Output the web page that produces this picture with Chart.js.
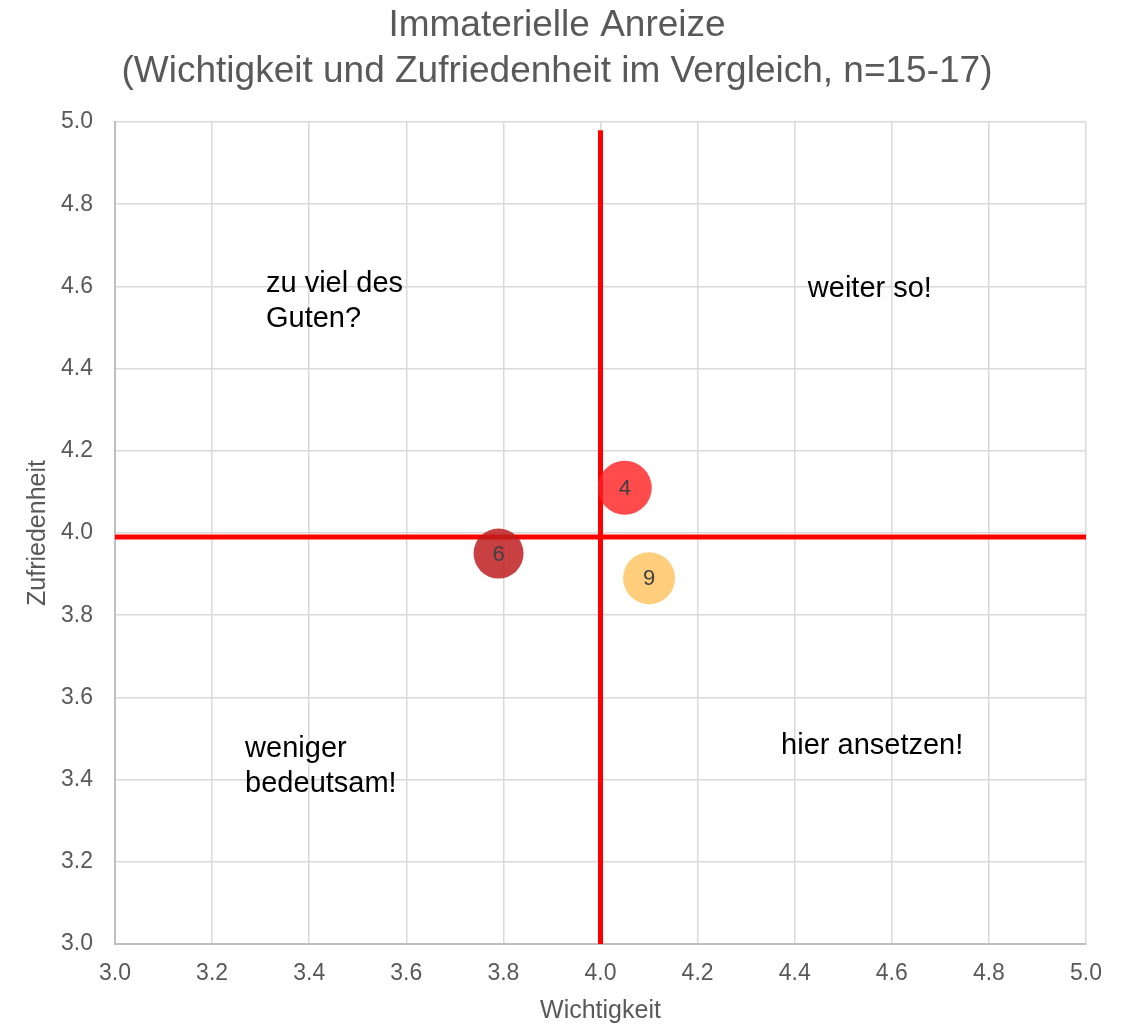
<!DOCTYPE html>
<html><head><meta charset="utf-8">
<script src="https://cdn.jsdelivr.net/npm/chart.js@4.4.1/dist/chart.umd.min.js"></script>
<style>html,body{margin:0;padding:0;background:#fff}#wrap{width:1124px;height:1027px}</style>
</head><body><div id="wrap"><canvas id="c"></canvas></div>
<script>
const bubbleLabels = ['4', '6', '9'];
const importance = [4.05, 3.79, 4.10];
const satisfaction = [4.11, 3.95, 3.89];
const bubbleSizes = [27, 25, 26];
const bubbleColors = ['rgba(255,30,30,0.8)', 'rgba(190,30,32,0.85)', 'rgba(255,190,80,0.75)'];
const xTicks = [3.0, 3.2, 3.4, 3.6, 3.8, 4.0, 4.2, 4.4, 4.6, 4.8, 5.0];
const yTicks = [3.0, 3.2, 3.4, 3.6, 3.8, 4.0, 4.2, 4.4, 4.6, 4.8, 5.0];
const vLineX = [4.0, 4.0];
const vLineY = [3.0, 4.98];
const hLineX = [3.0, 5.0];
const hLineY = [3.99, 3.99];
const quadrantTexts = [['zu viel des', 'Guten?'], ['weiter so!'], ['weniger', 'bedeutsam!'], ['hier ansetzen!']];
const quadrantX = [3.311, 4.427, 3.268, 4.372];
const quadrantY = [4.586, 4.574, 3.455, 3.462];

const FONT = '"Liberation Sans", Arial, sans-serif';
const bubbleData = importance.map((x, i) => ({x: x, y: satisfaction[i], r: bubbleSizes[i]}));

const labelPlugin = {
  id: 'labels',
  afterDatasetsDraw(chart) {
    const ctx = chart.ctx;
    const xs = chart.scales.x, ys = chart.scales.y;
    ctx.save();
    ctx.textAlign = 'center';
    ctx.textBaseline = 'middle';
    ctx.fillStyle = '#404040';
    ctx.font = '22px ' + FONT;
    bubbleData.forEach((p, i) => {
      ctx.fillText(bubbleLabels[i], xs.getPixelForValue(p.x), ys.getPixelForValue(p.y) + 1);
    });
    ctx.textAlign = 'left';
    ctx.textBaseline = 'alphabetic';
    ctx.fillStyle = '#000000';
    ctx.font = '29px ' + FONT;
    quadrantTexts.forEach((lines, i) => {
      const px = xs.getPixelForValue(quadrantX[i]);
      const py = ys.getPixelForValue(quadrantY[i]);
      lines.forEach((t, j) => ctx.fillText(t, px, py + j * 35));
    });
    ctx.restore();
  }
};

new Chart(document.getElementById('c'), {
  type: 'bubble',
  data: {
    datasets: [
      {type: 'bubble', data: bubbleData, backgroundColor: bubbleColors, borderWidth: 0, hoverBorderWidth: 0, order: 1},
      {type: 'line', data: vLineX.map((x, i) => ({x: x, y: vLineY[i]})), borderColor: '#FF0000', borderWidth: 5, pointRadius: 0, fill: false, order: 2},
      {type: 'line', data: hLineX.map((x, i) => ({x: x, y: hLineY[i]})), borderColor: '#FF0000', borderWidth: 5, pointRadius: 0, fill: false, order: 2}
    ]
  },
  options: {
    responsive: true,
    maintainAspectRatio: false,
    animation: false,
    layout: {padding: {left: 0, right: 10, top: 0, bottom: 0}},
    plugins: {
      legend: {display: false},
      tooltip: {enabled: false},
      title: {
        display: true,
        text: ['Immaterielle Anreize', '(Wichtigkeit und Zufriedenheit im Vergleich, n=15-17)'],
        color: '#595959',
        font: {family: FONT, size: 37, weight: 'normal', lineHeight: 1.243},
        padding: {top: 3, bottom: 27}
      }
    },
    scales: {
      x: {
        type: 'linear', min: 3, max: 5,
        afterBuildTicks(s) { s.ticks = xTicks.map(v => ({value: v})); },
        afterFit(s) { s.height = 83; },
        ticks: {color: '#595959', font: {family: FONT, size: 23}, padding: 16, callback: v => v.toFixed(1)},
        grid: {color: '#D9D9D9', lineWidth: 1.5, drawTicks: false},
        border: {color: '#BFBFBF', width: 2},
        title: {display: true, text: 'Wichtigkeit', color: '#595959', font: {family: FONT, size: 25}, padding: {top: 0, bottom: 1}}
      },
      y: {
        type: 'linear', min: 3, max: 5,
        afterBuildTicks(s) { s.ticks = yTicks.map(v => ({value: v})); },
        afterFit(s) { s.width = 115; },
        ticks: {color: '#595959', font: {family: FONT, size: 23}, padding: 22, callback: v => v.toFixed(1)},
        grid: {color: '#D9D9D9', lineWidth: 1.5, drawTicks: false},
        border: {color: '#BFBFBF', width: 2},
        title: {display: true, text: 'Zufriedenheit', color: '#595959', font: {family: FONT, size: 25}, padding: {top: 23, bottom: 0}}
      },
      yRight: {
        type: 'linear', position: 'right', min: 3, max: 5,
        afterFit(s) { s.width = 28; },
        ticks: {display: false},
        grid: {display: false, drawTicks: false},
        border: {display: false}
      }
    }
  },
  plugins: [labelPlugin]
});
</script></body></html>
